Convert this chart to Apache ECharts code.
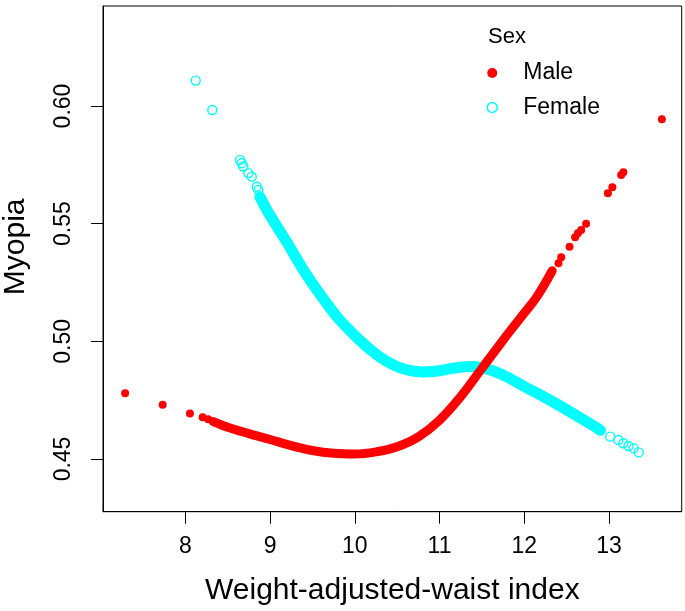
<!DOCTYPE html>
<html>
<head>
<meta charset="utf-8">
<script src="https://cdn.jsdelivr.net/npm/echarts@6/dist/echarts.min.js"></script>
<style>html,body{margin:0;padding:0;background:#fff}#c{width:685px;height:611px}</style>
</head>
<body>
<div id="c"></div>
<script>
// ---- data ----
const xTicks = [8, 9, 10, 11, 12, 13];
const yTicks = [0.45, 0.50, 0.55, 0.60];
const yTickLabels = ['0.45', '0.50', '0.55', '0.60'];

// Male: dense fitted band
const maleLineX = [8.33, 8.5, 8.75, 9.0, 9.25, 9.5, 9.75, 10.0, 10.25, 10.5, 10.75, 11.0, 11.25, 11.5, 11.75, 12.0, 12.15, 12.33];
const maleLineY = [0.4659, 0.4635, 0.4608, 0.4583, 0.4557, 0.4536, 0.4524, 0.4521, 0.4530, 0.4552, 0.4594, 0.4665, 0.4765, 0.4885, 0.5005, 0.5120, 0.5190, 0.5300];
// Male: separate points
const malePtsX = [7.29, 7.733, 8.055, 8.205, 8.27, 12.404, 12.436, 12.534, 12.6, 12.633, 12.672, 12.73, 12.987, 13.04, 13.144, 13.17, 13.624];
const malePtsY = [0.4779, 0.4730, 0.4693, 0.4677, 0.4669, 0.5332, 0.5357, 0.5402, 0.5442, 0.5459, 0.5473, 0.5500, 0.5629, 0.5655, 0.5707, 0.5718, 0.5944];

// Female: dense fitted band
const femaleLineX = [8.88, 9.0, 9.2, 9.4, 9.6, 9.8, 10.0, 10.2, 10.4, 10.6, 10.8, 11.0, 11.2, 11.4, 11.6, 11.8, 12.0, 12.2, 12.4, 12.6, 12.8, 12.9];
const femaleLineY = [0.5614, 0.5535, 0.5420, 0.5300, 0.5195, 0.5100, 0.5025, 0.4960, 0.4910, 0.4880, 0.4870, 0.4875, 0.4888, 0.4893, 0.4878, 0.4848, 0.4808, 0.4770, 0.4730, 0.4688, 0.4645, 0.4622];
// Female: separate points
const femalePtsX = [8.123, 8.319, 8.646, 8.666, 8.685, 8.744, 8.784, 8.843, 8.862, 12.877, 13.014, 13.11, 13.17, 13.23, 13.29, 13.35];
const femalePtsY = [0.6108, 0.5983, 0.5771, 0.5757, 0.5743, 0.5715, 0.5700, 0.5657, 0.5643, 0.4626, 0.4595, 0.4581, 0.4567, 0.4555, 0.4545, 0.4528];

const RED = '#FF0000', CYAN = '#00FFFF';
const FONT = 'Liberation Sans, Arial, Helvetica, sans-serif';
const zip = (a, b) => a.map((v, i) => [v, b[i]]);

const chart = echarts.init(document.getElementById('c'), null, {renderer: 'canvas'});
chart.setOption({
  animation: false,
  backgroundColor: '#fff',
  textStyle: {fontFamily: FONT},
  title: {
    text: 'Sex', left: 488, top: 26, padding: 0,
    textStyle: {fontFamily: FONT, fontSize: 22, fontWeight: 'normal', color: '#000'}
  },
  legend: {
    orient: 'vertical', left: 486.5, top: 61, padding: 0,
    itemWidth: 10, itemHeight: 10, itemGap: 10.5,
    selectedMode: false,
    textStyle: {fontFamily: FONT, fontSize: 23, color: '#000', lineHeight: 24, padding: [0, 0, 0, 21]},
    data: [
      {name: 'Male', icon: 'circle', itemStyle: {color: RED, borderWidth: 0, opacity: 1}},
      {name: 'Female', icon: 'circle', itemStyle: {color: '#fff', borderColor: CYAN, borderWidth: 1.5, opacity: 1}}
    ]
  },
  grid: {left: 103, right: 3.3, top: 6, bottom: 99.3, containLabel: false, outerBoundsMode: 'none',
    show: true, borderColor: '#000', borderWidth: 1, backgroundColor: 'transparent'},
  xAxis: {
    type: 'value', min: 7.029, max: 13.858,
    name: 'Weight-adjusted-waist index', nameLocation: 'middle', nameGap: 64,
    nameTextStyle: {fontFamily: FONT, fontSize: 30, color: '#000'},
    axisLine: {show: true, lineStyle: {color: '#000', width: 1}},
    axisTick: {show: true, length: 12, lineStyle: {color: '#000', width: 1}, customValues: xTicks},
    axisLabel: {fontFamily: FONT, fontSize: 23, color: '#000', margin: 23, customValues: xTicks, formatter: v => String(v)},
    splitLine: {show: false}
  },
  yAxis: {
    type: 'value', min: 0.4276, max: 0.6425,
    name: 'Myopia', nameLocation: 'middle', nameGap: 72,
    nameTextStyle: {fontFamily: FONT, fontSize: 30, color: '#000', padding: [0, 0, 0, 24]},
    axisLine: {show: true, lineStyle: {color: '#000', width: 1}},
    axisTick: {show: true, length: 12, lineStyle: {color: '#000', width: 1}, customValues: yTicks},
    axisLabel: {fontFamily: FONT, fontSize: 23, color: '#000', margin: 28, rotate: 90, customValues: yTicks,
      formatter: v => { const i = yTicks.findIndex(t => Math.abs(t - v) < 1e-9); return i >= 0 ? yTickLabels[i] : ''; }},
    splitLine: {show: false}
  },
  series: [
    {name: 'Female', type: 'line', data: zip(femaleLineX, femaleLineY), smooth: 0.35, showSymbol: false, symbol: 'none',
      lineStyle: {color: CYAN, width: 11, cap: 'round', opacity: 1}, itemStyle: {color: CYAN}, z: 2},
    {name: 'Female', type: 'scatter', data: zip(femalePtsX, femalePtsY), symbol: 'circle', symbolSize: 9,
      itemStyle: {color: 'rgba(255,255,255,0)', borderColor: CYAN, borderWidth: 1.4, opacity: 1}, z: 3},
    {name: 'Male', type: 'line', data: zip(maleLineX, maleLineY), smooth: 0.35, showSymbol: false, symbol: 'none',
      lineStyle: {color: RED, width: 9, cap: 'round', opacity: 1}, itemStyle: {color: RED}, z: 4},
    {name: 'Male', type: 'scatter', data: zip(malePtsX, malePtsY), symbol: 'circle', symbolSize: 8,
      itemStyle: {color: RED, opacity: 1}, z: 5}
  ]
});
</script>
</body>
</html>
